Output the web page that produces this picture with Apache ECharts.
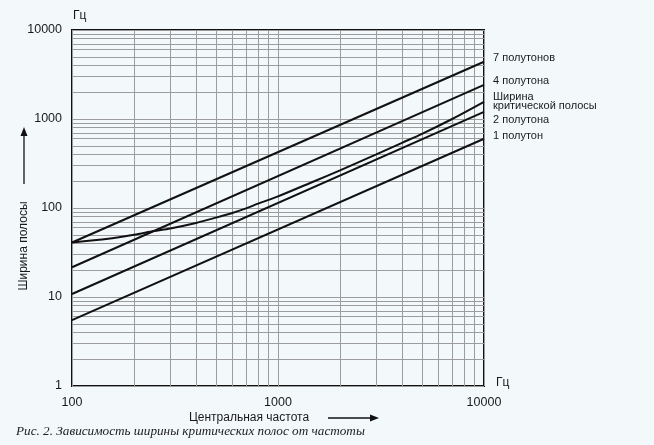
<!DOCTYPE html>
<html>
<head>
<meta charset="utf-8">
<script src="https://cdn.jsdelivr.net/npm/echarts@6/dist/echarts.min.js"></script>
<style>
html,body{margin:0;padding:0;background:#f3f8fb;}
#c{width:654px;height:445px;}
</style>
</head>
<body>
<div id="c"></div>
<script>
// ---- data ----
const lineFreqs = [100, 10000];
const semi7 = [41, 4400];
const semi4 = [21.6, 2420];
const semi2 = [10.8, 1200];
const semi1 = [5.5, 600];
const critFreqs = [100,150,200,250,300,400,500,600,700,800,1000,1500,2000,3000,4000,5000,7000,10000];
const critBw    = [41, 45, 50, 55, 59, 68, 78, 88, 99, 112,135, 200, 265, 400, 540, 680, 1000,1560];
// minor grid values
const xGridVals = [200,300,400,500,600,700,800,900,2000,3000,4000,5000,6000,7000,8000,9000];
const yGridVals = [2,3,4,5,6,7,8,9,20,30,40,50,60,70,80,90,200,300,400,500,600,700,800,900,2000,3000,4000,5000,6000,7000,8000,9000];
const xTicks = ['100','1000','10000'];
const yTicks = ['1','10','100','1000','10000'];
const seriesLabels = ['7 полутонов','4 полутона','Ширина\nкритической полосы','2 полутона','1 полутон'];

const pair = (xs, ys) => xs.map((x, i) => [x, ys[i]]);
const chart = echarts.init(document.getElementById('c'));
const gridColor = '#9c9c9c';
const lineStyleMain = {color:'#111', width:2};
const F = 'Liberation Sans, Arial, sans-serif';

chart.setOption({
  backgroundColor:'#f3f8fb',
  animation:false,
  grid:{left:72, top:30, right:170, bottom:59, show:true, borderColor:'#111', borderWidth:2, backgroundColor:'#f3f8fb'},
  xAxis:{type:'log', logBase:10, min:100, max:10000,
    axisLine:{show:false}, axisTick:{show:false},
    splitLine:{show:true, lineStyle:{color:gridColor, width:1}},
    axisLabel:{margin:10, color:'#1a1a1a', fontSize:12.5, fontFamily:F,
      formatter:v => xTicks.includes(String(Math.round(v))) ? String(Math.round(v)) : ''}},
  yAxis:{type:'log', logBase:10, min:1, max:10000,
    axisLine:{show:false}, axisTick:{show:false},
    splitLine:{show:true, lineStyle:{color:gridColor, width:1}},
    axisLabel:{margin:10, color:'#1a1a1a', fontSize:12.5, fontFamily:F,
      formatter:v => yTicks.includes(String(Math.round(v))) ? String(Math.round(v)) : ''}},
  series:[
    {type:'line', data:[], z:1, silent:true,
      markLine:{silent:true, z:1, symbol:'none', label:{show:false}, animation:false,
        lineStyle:{color:gridColor, width:1, type:'solid'},
        data: xGridVals.map(v => ({xAxis:v})).concat(yGridVals.map(v => ({yAxis:v})))}},
    {type:'line', name:seriesLabels[0], data:pair(lineFreqs, semi7), showSymbol:false, lineStyle:lineStyleMain, z:10},
    {type:'line', name:seriesLabels[1], data:pair(lineFreqs, semi4), showSymbol:false, lineStyle:lineStyleMain, z:10},
    {type:'line', name:seriesLabels[2], data:pair(critFreqs, critBw), showSymbol:false, smooth:0.3, lineStyle:lineStyleMain, z:10},
    {type:'line', name:seriesLabels[3], data:pair(lineFreqs, semi2), showSymbol:false, lineStyle:lineStyleMain, z:10},
    {type:'line', name:seriesLabels[4], data:pair(lineFreqs, semi1), showSymbol:false, lineStyle:lineStyleMain, z:10}
  ],
  graphic:[
    {type:'text', left:73, top:10, style:{text:'Гц', fill:'#1a1a1a', font:'12px '+F}},
    {type:'text', left:496, top:377, style:{text:'Гц', fill:'#1a1a1a', font:'12px '+F}},
    {type:'text', left:493, top:52, style:{text:seriesLabels[0], fill:'#1a1a1a', font:'11px '+F}},
    {type:'text', left:493, top:75, style:{text:seriesLabels[1], fill:'#1a1a1a', font:'11px '+F}},
    {type:'text', left:493, top:91, style:{text:seriesLabels[2], fill:'#1a1a1a', font:'11px '+F, lineHeight:9}},
    {type:'text', left:493, top:114, style:{text:seriesLabels[3], fill:'#1a1a1a', font:'11px '+F}},
    {type:'text', left:493, top:130, style:{text:seriesLabels[4], fill:'#1a1a1a', font:'11px '+F}},
    {type:'text', x:24, y:246, rotation:Math.PI/2,
      style:{text:'Ширина полосы', fill:'#1a1a1a', font:'12px '+F, align:'center', verticalAlign:'middle'}},
    {type:'line', shape:{x1:24, y1:184, x2:24, y2:135}, style:{stroke:'#111', lineWidth:1.3}},
    {type:'polygon', shape:{points:[[20.5,136],[27.5,136],[24,127]]}, style:{fill:'#111'}},
    {type:'text', x:249, y:418,
      style:{text:'Центральная частота', fill:'#1a1a1a', font:'12px '+F, align:'center', verticalAlign:'middle'}},
    {type:'line', shape:{x1:328, y1:418, x2:372, y2:418}, style:{stroke:'#111', lineWidth:1.3}},
    {type:'polygon', shape:{points:[[370,414.5],[370,421.5],[379,418]]}, style:{fill:'#111'}},
    {type:'text', x:16, y:432,
      style:{text:'Рис. 2. Зависимость ширины критических полос от частоты', fill:'#222',
        font:'italic 13.2px Liberation Serif, DejaVu Serif, serif', align:'left', verticalAlign:'middle'}}
  ]
});
</script>
</body>
</html>
